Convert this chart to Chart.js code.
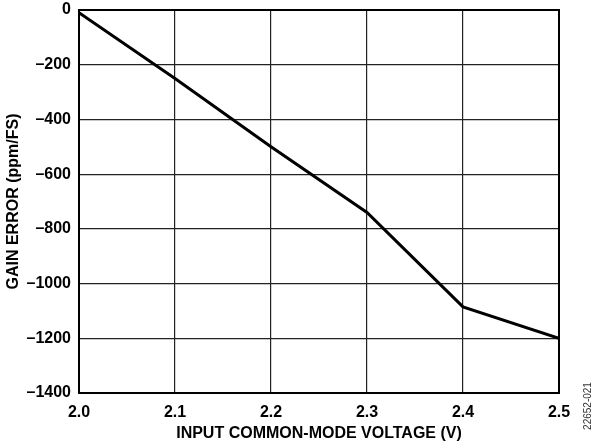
<!DOCTYPE html>
<html>
<head>
<meta charset="utf-8">
<script src="https://cdn.jsdelivr.net/npm/chart.js@4/dist/chart.umd.min.js"></script>
<style>
  html, body { margin: 0; padding: 0; background: #fff; }
  #wrap { width: 599px; height: 448px; position: relative; }
</style>
</head>
<body>
<div id="wrap"><canvas id="c" width="599" height="448"></canvas></div>
<script>
// Data
const voltages = [2.0, 2.1, 2.2, 2.3, 2.4, 2.5];
const gainError = [-10, -250, -500, -740, -1085, -1200];
const xTicks = [2.0, 2.1, 2.2, 2.3, 2.4, 2.5];
const yTicks = [0, -200, -400, -600, -800, -1000, -1200, -1400];
const xTitle = 'INPUT COMMON-MODE VOLTAGE (V)';
const yTitle = 'GAIN ERROR (ppm/FS)';
const figureId = '22652-021';

const FONT = "'Liberation Sans', Arial, Helvetica, sans-serif";

const points = voltages.map((v, i) => ({ x: v, y: gainError[i] }));

const frame = {
  id: 'frame',
  beforeDatasetsDraw(chart) {
    const { ctx, chartArea: a } = chart;
    ctx.save();
    ctx.strokeStyle = '#000';
    ctx.lineWidth = 2;
    ctx.strokeRect(a.left, a.top, a.right - a.left, a.bottom - a.top);
    ctx.restore();
  },
  afterDraw(chart) {
    const { ctx } = chart;
    ctx.save();
    ctx.translate(588, 406);
    ctx.rotate(-Math.PI / 2);
    ctx.font = '10px ' + FONT;
    ctx.fillStyle = '#333';
    ctx.textAlign = 'center';
    ctx.textBaseline = 'middle';
    ctx.fillText(figureId, 0, 0);
    ctx.restore();
  }
};

new Chart(document.getElementById('c'), {
  type: 'scatter',
  data: {
    datasets: [{
      data: points,
      showLine: true,
      borderColor: '#000',
      borderWidth: 3,
      pointRadius: 0,
      tension: 0,
      fill: false
    }]
  },
  options: {
    responsive: false,
    animation: false,
    devicePixelRatio: 1,
    layout: { padding: { left: 0, right: 40, top: 10, bottom: 0 } },
    plugins: { legend: { display: false }, tooltip: { enabled: false } },
    scales: {
      x: {
        type: 'linear',
        min: 2.0,
        max: 2.5,
        afterBuildTicks(scale) { scale.ticks = xTicks.map(v => ({ value: v })); },
        afterFit(scale) { scale.height = 55; scale.paddingLeft = 0; scale.paddingRight = 0; },
        ticks: {
          color: '#000',
          padding: 10,
          font: { family: FONT, size: 16, weight: 'bold' },
          callback: v => Number(v).toFixed(1)
        },
        grid: { color: '#222', lineWidth: 1.2, drawTicks: false },
        border: { color: '#000', width: 2 },
        title: {
          display: true,
          text: xTitle,
          color: '#000',
          font: { family: FONT, size: 16, weight: 'bold' },
          padding: { top: 0, bottom: 5 }
        }
      },
      y: {
        type: 'linear',
        min: -1400,
        max: 0,
        afterBuildTicks(scale) { scale.ticks = yTicks.map(v => ({ value: v })); },
        afterFit(scale) { scale.width = 79; scale.paddingTop = 0; scale.paddingBottom = 0; },
        ticks: {
          color: '#000',
          padding: 8,
          font: { family: FONT, size: 16, weight: 'bold' },
          callback: v => String(v).replace('-', '\u2013')
        },
        grid: { color: '#222', lineWidth: 1.2, drawTicks: false },
        border: { color: '#000', width: 2 },
        title: {
          display: true,
          text: yTitle,
          color: '#000',
          font: { family: FONT, size: 16, weight: 'bold' },
          padding: { top: 4, bottom: 0 }
        }
      }
    }
  },
  plugins: [frame]
});
</script>
</body>
</html>
